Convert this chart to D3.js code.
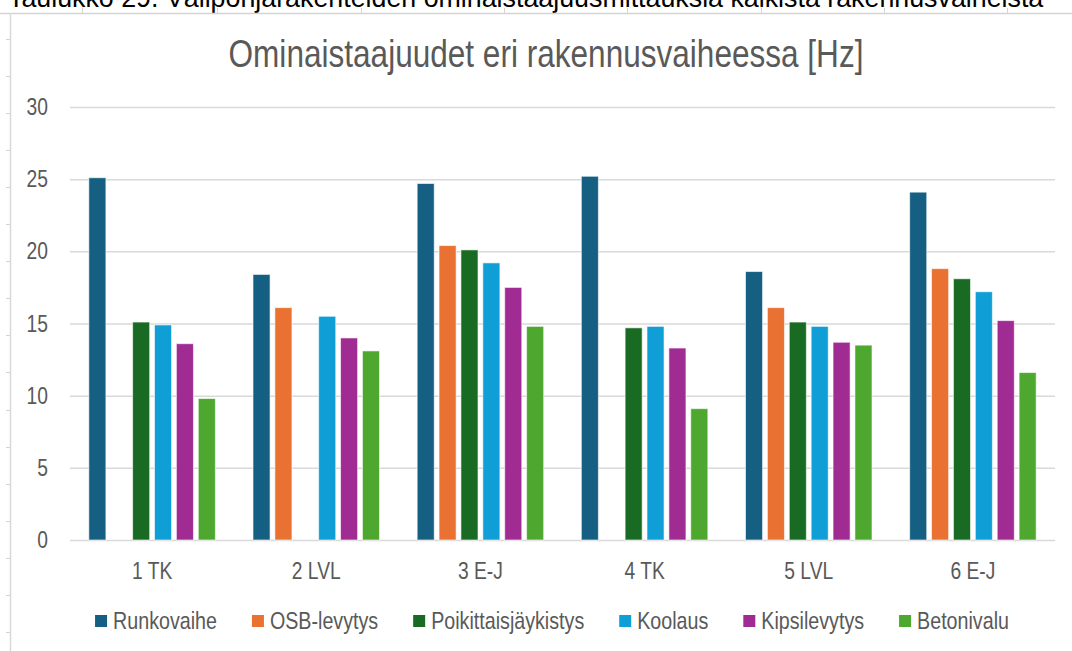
<!DOCTYPE html>
<html>
<head>
<meta charset="utf-8">
<script src="https://cdn.jsdelivr.net/npm/d3@7/dist/d3.min.js"></script>
<style>
  html, body { margin: 0; padding: 0; background: #fff; overflow: hidden; }
  svg { display: block; }
</style>
</head>
<body>
<svg id="chart" width="1072" height="651"></svg>
<script>
// ---- data ----
const categories = ["1 TK", "2 LVL", "3 E-J", "4 TK", "5 LVL", "6 E-J"];
const seriesNames = ["Runkovaihe", "OSB-levytys", "Poikittaisjäykistys", "Koolaus", "Kipsilevytys", "Betonivalu"];
const runkovaihe          = [25.1, 18.4, 24.7, 25.2, 18.6, 24.1];
const osbLevytys          = [null, 16.1, 20.4, null, 16.1, 18.8];
const poikittaisjaykistys = [15.1, null, 20.1, 14.7, 15.1, 18.1];
const koolaus             = [14.9, 15.5, 19.2, 14.8, 14.8, 17.2];
const kipsilevytys        = [13.6, 14.0, 17.5, 13.3, 13.7, 15.2];
const betonivalu          = [9.8, 13.1, 14.8, 9.1, 13.5, 11.6];
const seriesValues = [runkovaihe, osbLevytys, poikittaisjaykistys, koolaus, kipsilevytys, betonivalu];
const seriesColors = ["#156082", "#E97132", "#196B24", "#0F9ED5", "#A02B93", "#4EA72E"];
const yTicks = [0, 5, 10, 15, 20, 25, 30];
const titleText = "Ominaistaajuudet eri rakennusvaiheessa [Hz]";
const captionText = "Taulukko 29. Välipohjarakenteiden ominaistaajuusmittauksia kaikista rakennusvaiheista";

// ---- layout ----
const FONT = "'Liberation Sans', Arial, sans-serif";
const NARROW = 0.82;           // horizontal squeeze to imitate a narrow font
const TXT = "#595959";
const GRID = "#d9d9d9";
const plot = { left: 70, right: 1055, top: 107, bottom: 540 };

const svg = d3.select("#chart");

// spreadsheet background fragments (cell gridlines peeking around the chart)
svg.append("text")
  .attr("x", 8).attr("y", 7)
  .attr("font-family", FONT)
  .attr("font-size", 26.8)
  .attr("fill", "#000")
  .text(captionText);

svg.append("line").attr("x1", 0).attr("x2", 1072).attr("y1", 13.5).attr("y2", 13.5)
  .attr("stroke", "#d4d4d4").attr("stroke-width", 1.5);
[82, 217, 361, 504, 627, 761, 884, 1007].forEach(x => {
  svg.append("line").attr("x1", x + 0.5).attr("x2", x + 0.5).attr("y1", 8).attr("y2", 13)
    .attr("stroke", "#d4d4d4").attr("stroke-width", 1);
});
svg.append("line").attr("x1", 10.5).attr("x2", 10.5).attr("y1", 13).attr("y2", 651)
  .attr("stroke", "#d9d9d9").attr("stroke-width", 1.5);
for (let k = -2; k <= 14; k++) {
  const yy = Math.round(113 + 37.07 * k) + 0.5;
  svg.append("line").attr("x1", 6).attr("x2", 10).attr("y1", yy).attr("y2", yy)
    .attr("stroke", "#d4d4d4").attr("stroke-width", 1);
}

// title
svg.append("text")
  .attr("transform", `translate(546,67) scale(${NARROW},1)`)
  .attr("text-anchor", "middle")
  .attr("font-family", FONT)
  .attr("font-size", 38.5)
  .attr("fill", TXT)
  .text(titleText);

// scales
const y = d3.scaleLinear().domain([0, 30]).range([plot.bottom, plot.top]);
const x0 = d3.scaleBand().domain(categories).range([plot.left, plot.right]).padding(0);
const x1 = d3.scaleBand().domain(seriesNames).range([0, x0.bandwidth()])
  .paddingInner(0.22).paddingOuter(0.86);

// gridlines + y labels
const yAxis = d3.axisLeft(y).tickValues(yTicks).tickSize(-(plot.right - plot.left)).tickPadding(22);
const gy = svg.append("g").attr("transform", `translate(${plot.left},0)`).call(yAxis);
gy.select(".domain").remove();
gy.selectAll(".tick line").attr("stroke", GRID).attr("stroke-width", 1.5);
gy.selectAll(".tick text")
  .attr("x", -22 / NARROW)
  .attr("transform", `scale(${NARROW},1)`)
  .attr("font-family", FONT).attr("font-size", 23.5).attr("fill", TXT);

// bars
const groups = svg.append("g").selectAll("g")
  .data(categories)
  .join("g")
  .attr("transform", d => `translate(${x0(d)},0)`);

groups.selectAll("rect")
  .data((cat, ci) => seriesNames.map((s, si) => ({ s, si, v: seriesValues[si][ci] }))
    .filter(d => d.v != null))
  .join("rect")
  .attr("x", d => x1(d.s))
  .attr("width", x1.bandwidth())
  .attr("y", d => y(d.v))
  .attr("height", d => y(0) - y(d.v))
  .attr("fill", d => seriesColors[d.si])
  .attr("stroke", "#ffffff")
  .attr("stroke-opacity", 0.6)
  .attr("stroke-width", 1);

// x axis labels
const xAxis = d3.axisBottom(x0).tickSize(0).tickPadding(22);
const gx = svg.append("g").attr("transform", `translate(0,${plot.bottom})`).call(xAxis);
gx.select(".domain").remove();
gx.selectAll(".tick text")
  .attr("transform", `scale(${NARROW},1)`)
  .attr("font-family", FONT).attr("font-size", 23.5).attr("fill", TXT);

// legend
const legend = svg.append("g");
const items = legend.selectAll("g").data(seriesNames).join("g");
items.append("rect")
  .attr("width", 12).attr("height", 12)
  .attr("y", -6)
  .attr("fill", (d, i) => seriesColors[i]);
items.append("text")
  .attr("transform", `translate(18,0) scale(${NARROW},1)`)
  .attr("dy", "0.35em")
  .attr("font-family", FONT).attr("font-size", 24).attr("fill", TXT)
  .text(d => d);
const gap = 35;
const widths = [];
items.each(function () {
  widths.push(18 + NARROW * this.querySelector("text").getComputedTextLength());
});
const total = d3.sum(widths) + gap * (widths.length - 1);
let cursor = 552 - total / 2;
items.attr("transform", (d, i) => {
  const tx = cursor;
  cursor += widths[i] + gap;
  return `translate(${tx},621)`;
});
</script>
</body>
</html>
